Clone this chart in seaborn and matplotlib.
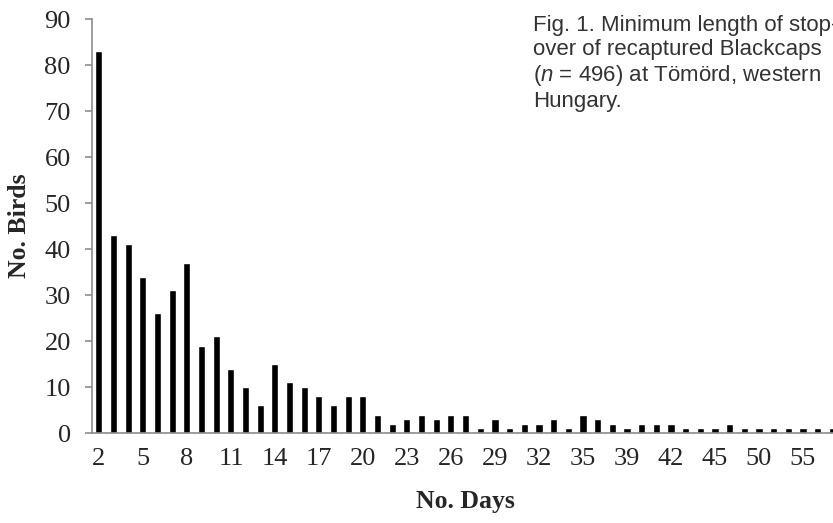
import pandas as pd
import seaborn as sns
import matplotlib.pyplot as plt

# stop-over length (days) and number of recaptured birds
days = [str(d) for d in range(2, 36)] + [
    "36", "38", "39", "40", "41", "42", "43", "44", "45",
    "47", "48", "50", "52", "53", "55", "57", "60",
]
birds = [
    83, 43, 41, 34, 26, 31, 37, 19, 21, 14, 10, 6, 15, 11, 10, 8, 6, 8, 8,
    4, 2, 3, 4, 3, 4, 4, 1, 3, 1, 2, 2, 3, 1, 4,
    3, 2, 1, 2, 2, 2, 1, 1, 1, 2, 1, 1, 1, 1, 1, 1, 1,
]
y_ticks = list(range(0, 100, 10))

caption = ("Fig. 1. Minimum length of stop-\n"
           "over of recaptured Blackcaps\n"
           "($n$ = 496) at Tömörd, western\n"
           "Hungary.")

sns.set_theme(style="white")
plt.rcParams["font.family"] = ["Liberation Serif", "DejaVu Serif"]
plt.rcParams["mathtext.fontset"] = "custom"
plt.rcParams["mathtext.it"] = "Liberation Sans:italic"

df = pd.DataFrame({"Days": days, "Birds": birds})

fig = plt.figure(figsize=(8.33, 5.23), dpi=100)
ax = fig.add_axes([0.110, 0.172, 0.898, 0.7916])

sns.barplot(data=df, x="Days", y="Birds", order=days, color="black",
            width=0.48, saturation=1, ax=ax)

ax.set_xlim(-0.5, len(days) - 0.5)
ax.set_ylim(0, 90)
ax.set_yticks(y_ticks)
ax.set_xticks(range(0, len(days), 3))
ax.set_xticklabels([days[i] for i in range(0, len(days), 3)])

for side in ["top", "right"]:
    ax.spines[side].set_visible(False)
for side in ["left", "bottom"]:
    ax.spines[side].set_color("#8c8c8c")
    ax.spines[side].set_linewidth(1.2)

ax.tick_params(axis="y", length=5, width=1.2, color="#8c8c8c", pad=10,
               labelsize=19, left=True, direction="out")
ax.tick_params(axis="x", length=0, pad=10.5, labelsize=19)

ax.set_xlabel("No. Days", fontsize=18.5, fontweight="bold", labelpad=14.5)
ax.set_ylabel("No. Birds", fontsize=18.5, fontweight="bold", labelpad=10)

fig.text(533 / 833, 1 - 15 / 523, caption, ha="left", va="top",
         fontsize=16, color="#333333", family="Liberation Sans",
         linespacing=1.19)

fig.savefig("out.png", dpi=100)
